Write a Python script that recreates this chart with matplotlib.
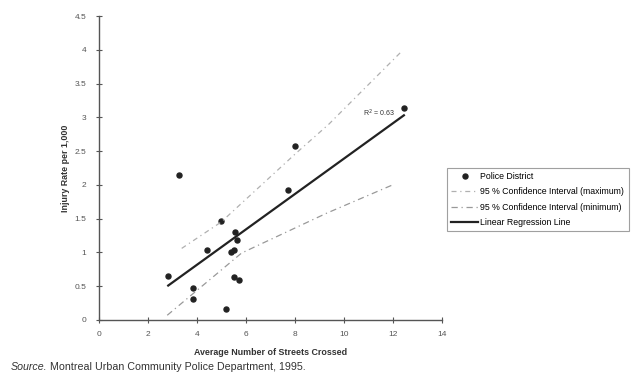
import matplotlib.pyplot as plt

plt.rcParams['font.family'] = ['Liberation Sans', 'DejaVu Sans']

# police districts: average streets crossed vs injury rate
streets = [2.84, 3.28, 3.86, 3.86, 4.44, 4.98, 5.19, 5.40, 5.52, 5.55, 5.63, 5.52, 5.72, 7.73, 8.00, 12.46]
injury = [0.65, 2.14, 0.48, 0.31, 1.04, 1.47, 0.17, 1.01, 1.03, 1.30, 1.19, 0.64, 0.59, 1.93, 2.57, 3.14]

reg_x = [2.84, 12.46]
reg_y = [0.51, 3.03]

ci_max_x = [3.39, 5.0, 8.0, 9.4, 12.35]
ci_max_y = [1.06, 1.45, 2.45, 2.9, 3.97]

ci_min_x = [2.80, 5.83, 9.3, 12.0]
ci_min_y = [0.07, 0.99, 1.58, 2.0]

xticks = [0, 2, 4, 6, 8, 10, 12, 14]
yticks = [0, 0.5, 1, 1.5, 2, 2.5, 3, 3.5, 4, 4.5]
ylabels = ['0', '0.5', '1', '1.5', '2', '2.5', '3', '3.5', '4', '4.5']

fig = plt.figure(figsize=(6.38, 3.83), dpi=100)
ax = fig.add_axes([0.1546, 0.1645, 0.5376, 0.7937])

pts, = ax.plot(streets, injury, 'o', color='#222222', markersize=3.6, label='Police District')
cmax, = ax.plot(ci_max_x, ci_max_y, color='#b0b0b0', lw=0.9, ls=(0, (4, 3, 1, 3)),
                label='95 % Confidence Interval (maximum)')
cmin, = ax.plot(ci_min_x, ci_min_y, color='#999999', lw=0.9, ls=(0, (5, 3, 1, 3)),
                label='95 % Confidence Interval (minimum)')
reg, = ax.plot(reg_x, reg_y, color='#222222', lw=1.6, label='Linear Regression Line')

ax.text(12.1, 3.06, 'R$^2$ = 0.63', fontsize=5, ha='right', va='center', color='#333333')

ax.set_xlim(0, 14)
ax.set_ylim(0, 4.5)
ax.set_xticks(xticks)
ax.set_yticks(yticks)
ax.set_yticklabels(ylabels)
ax.tick_params(direction='inout', length=4, width=0.8, labelsize=6, colors='#555555',
               labelcolor='#555555')
ax.tick_params(axis='y', pad=7)
ax.tick_params(axis='x', pad=6)
for s in ['top', 'right']:
    ax.spines[s].set_visible(False)
for s in ['left', 'bottom']:
    ax.spines[s].set_color('#555555')
    ax.spines[s].set_linewidth(1.0)

ax.set_xlabel('Average Number of Streets Crossed', fontsize=6.4, fontweight='bold', color='#333333', labelpad=7)
ax.set_ylabel('Injury Rate per 1,000', fontsize=6.4, fontweight='bold', color='#333333', labelpad=3)

leg = fig.legend(handles=[pts, cmax, cmin, reg], loc='upper left', bbox_to_anchor=(0.698, 0.566),
                 fontsize=6.3, frameon=True, fancybox=False, edgecolor='#888888',
                 handlelength=3.0, borderpad=0.5, labelspacing=0.7, handletextpad=0.3,
                 borderaxespad=0.2)
leg.get_frame().set_linewidth(0.8)

fig.text(0.016, 0.035, 'Source.', fontsize=7.7, style='italic', color='#333333')
fig.text(0.079, 0.035, 'Montreal Urban Community Police Department, 1995.', fontsize=7.7, color='#333333')

fig.savefig('out.png', dpi=100)
